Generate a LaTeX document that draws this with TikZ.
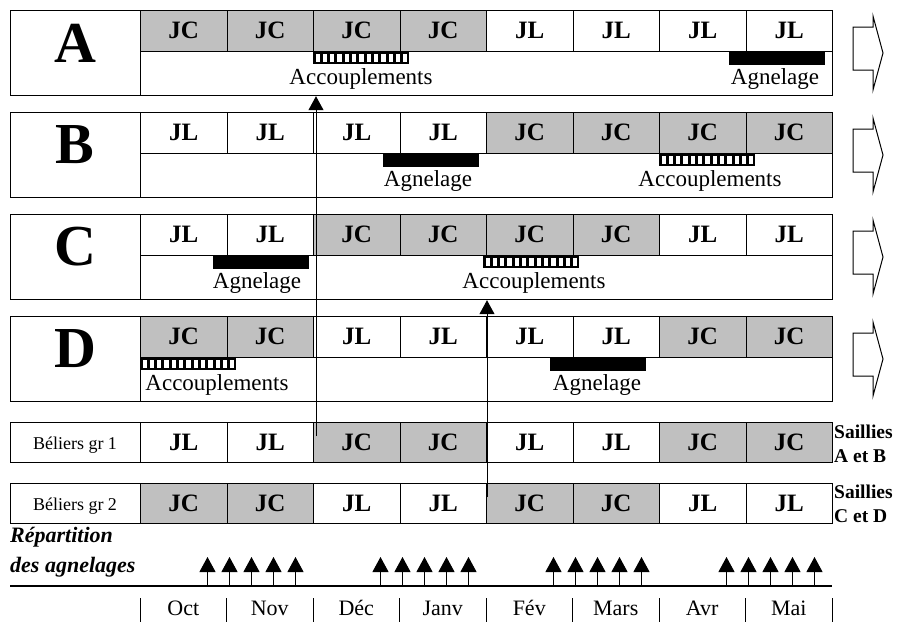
\documentclass[tikz,border=0pt]{standalone}
\usepackage{fontspec}
\setmainfont{Liberation Serif}
\usetikzlibrary{arrows.meta}

\definecolor{JC}{RGB}{192,192,192}
\colorlet{JL}{white}

\tikzset{
	cadre/.style={draw, line width=1.2pt, anchor=north west, inner sep=0pt},
	cellule/.style={draw, line width=0.8pt, anchor=north west, inner sep=0pt,
		minimum width=86.5pt, minimum height=41pt,
		text height=16pt, text depth=0pt,
		font=\fontsize{25}{25}\selectfont\bfseries},
	lettre/.style={inner sep=0pt, font=\fontsize{58}{58}\selectfont\bfseries},
	bande/.style={inner sep=0pt, anchor=base, font=\fontsize{23}{23}\selectfont},
	belier/.style={inner sep=0pt, anchor=base, font=\fontsize{18}{18}\selectfont},
	saillies/.style={inner sep=0pt, anchor=west, align=left,
		font=\fontsize{19.5}{24}\selectfont\bfseries},
	repart/.style={inner sep=0pt, anchor=north west, align=left,
		font=\fontsize{22}{30}\selectfont\bfseries\itshape},
	mois/.style={inner sep=0pt, anchor=base, font=\fontsize{22}{22}\selectfont},
	bloc/.style={draw, line width=1pt, fill=white},
	fleche/.style={-{Triangle[length=14pt,width=15pt]}, line width=1pt},
	pousse/.style={-{Triangle[length=15pt,width=16pt]}, line width=1pt}
}

\begin{document}
\begin{tikzpicture}[x=1pt, y=-1pt, line join=miter]
	
	\useasboundingbox (0,0) rectangle (900,624);
	
	\def\Debut{140}
	\def\Pas{86.5}
	
	\newcommand{\Groupe}[2]{%
		\node[cadre, minimum width=822pt, minimum height=85pt] (#1) at (10,0) {};
		\node[cadre, minimum width=130pt, minimum height=85pt] (#1-case) at (10,0) {};
		\node[lettre] (#1-nom) at (75,33) {#1};
		\foreach \t [count=\i from 1] in {#2}
			\node[cellule, fill=\t] (#1-\i) at ({\Debut+\Pas*(\i-1)},0) {\t};
		\draw[bloc] (853,17) -- (873,17) -- (873,6) -- (883,43)
			-- (873,80) -- (873,60) -- (853,60) -- cycle;
	}
	
	\newcommand{\Accouplement}[3]{%
		\fill (#2,41) rectangle ++(96,13);
		\foreach \k in {0,...,12}
			\fill[white] ({#2+2.5+7.3*\k},43.5) rectangle ++(4.3,8);
		\node[bande] (#1-acc) at (#3,74) {Accouplements};
	}
	
	\newcommand{\Agnelage}[3]{%
		\fill (#2,41) rectangle ++(96,14);
		\node[bande] (#1-agn) at (#3,74) {Agnelage};
	}
	
	\newcommand{\Beliers}[3]{%
		\node[cadre, minimum width=130pt, minimum height=40pt] (#1) at (10,0) {};
		\node[belier] (#1-nom) at (75,27) {#2};
		\foreach \t [count=\i from 1] in {#3}
			\node[cellule, fill=\t, minimum height=40pt] (#1-\i) at ({\Debut+\Pas*(\i-1)},0) {\t};
	}
	
	% Groupe A
	\begin{scope}[shift={(0,10)}]
		\Groupe{A}{JC,JC,JC,JC,JL,JL,JL,JL}
		\Accouplement{A}{313}{361}
		\Agnelage{A}{729}{775}
	\end{scope}
	
	% Groupe B
	\begin{scope}[shift={(0,112)}]
		\Groupe{B}{JL,JL,JL,JL,JC,JC,JC,JC}
		\Agnelage{B}{383}{428}
		\Accouplement{B}{659}{710}
	\end{scope}
	
	% Groupe C
	\begin{scope}[shift={(0,214)}]
		\Groupe{C}{JL,JL,JC,JC,JC,JC,JL,JL}
		\Agnelage{C}{213}{257}
		\Accouplement{C}{483}{534}
	\end{scope}
	
	% Groupe D
	\begin{scope}[shift={(0,316)}]
		\Groupe{D}{JC,JC,JL,JL,JL,JL,JC,JC}
		\Accouplement{D}{140}{217}
		\Agnelage{D}{550}{597}
	\end{scope}
	
	% Beliers
	\begin{scope}[shift={(0,422)}]
		\Beliers{gr1}{Béliers gr 1}{JL,JL,JC,JC,JL,JL,JC,JC}
	\end{scope}
	\begin{scope}[shift={(0,483)}]
		\Beliers{gr2}{Béliers gr 2}{JC,JC,JL,JL,JC,JC,JL,JL}
	\end{scope}
	
	\node[saillies] (sail-1) at (834,444) {Saillies\\A et B};
	\node[saillies] (sail-2) at (834,504) {Saillies\\C et D};
	
	% fleches des saillies
	\coordinate (depart-1) at (316,436);
	\coordinate (depart-2) at (487,497);
	\draw[fleche] (depart-1) -- (depart-1 |- A.south);
	\draw[fleche] (depart-2) -- (depart-2 |- C.south);
	
	% repartition des agnelages
	\node[repart] (repart) at (10,527) {Répartition\\des agnelages};
	\draw[line width=1.5pt] (10,586) -- (832,586);
	\foreach \k in {0,...,3}
		\foreach \j in {0,...,4} {
			\coordinate (pied-\k-\j) at ({\Debut+2*\k*\Pas+67.5+22*\j},586);
			\coordinate (pointe-\k-\j) at ({\Debut+2*\k*\Pas+67.5+22*\j},557);
			\draw[pousse] (pied-\k-\j) -- (pointe-\k-\j);
		}
	
	% mois
	\foreach \i in {0,...,8}
		\draw[line width=1pt] ({\Debut+\Pas*\i},598) -- ++(0,24);
	\foreach \m [count=\i from 0] in {Oct,Nov,Déc,Janv,Fév,Mars,Avr,Mai}
		\node[mois] (mois-\i) at ({\Debut+\Pas*\i+\Pas/2},615) {\m};
	
\end{tikzpicture}
\end{document}
